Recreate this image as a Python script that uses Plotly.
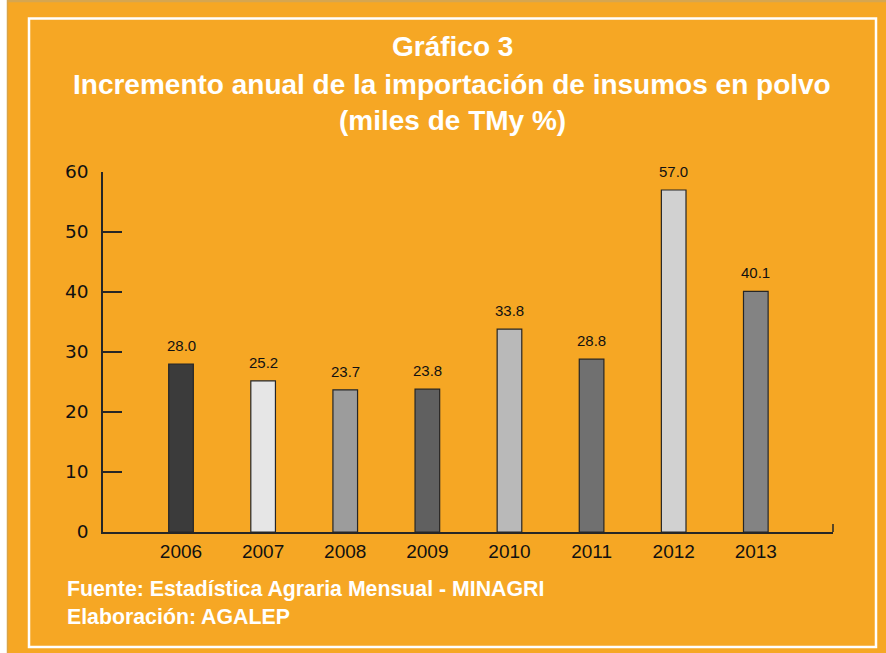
import plotly.graph_objects as go

years = ["2006", "2007", "2008", "2009", "2010", "2011", "2012", "2013"]
values = [28.0, 25.2, 23.7, 23.8, 33.8, 28.8, 57.0, 40.1]
bar_colors = ["#3b3b3b", "#e6e6e6", "#9c9c9c", "#606060", "#b9b9b9", "#707070", "#d1d1d1", "#838383"]
y_ticks = [0, 10, 20, 30, 40, 50, 60]

title_lines = ["Gráfico 3",
               "Incremento anual de la importación de insumos en polvo",
               "(miles de TMy %)"]
footer_lines = ["Fuente: Estadística Agraria Mensual - MINAGRI",
                "Elaboración: AGALEP"]

ORANGE = "#F6A724"
W, H = 886, 653
L, R, T, B = 103, 833, 172, 532  # plot area in pixels


def px(x):
    return (x - L) / (R - L)


def py(y):
    return (B - y) / (B - T)


fig = go.Figure()
fig.add_trace(go.Bar(
    x=years, y=values, width=0.3,
    marker=dict(color=bar_colors, line=dict(color="#262626", width=1.2)),
    hoverinfo="x+y",
))

annotations = []
for i, v in enumerate(values):
    annotations.append(dict(x=i, y=v, xref="x", yref="y", text=f"{v:.1f}",
                            showarrow=False, yanchor="bottom", yshift=8,
                            font=dict(family="Liberation Sans, Arial", size=15, color="#111")))

title_y = [47, 84, 120]
for t, yy in zip(title_lines, title_y):
    annotations.append(dict(x=px(452), y=py(yy), xref="paper", yref="paper", text=f"<b>{t}</b>",
                            showarrow=False, xanchor="center", yanchor="middle",
                            font=dict(family="Liberation Sans, Arial", size=28, color="white")))

footer_y = [589, 617]
for t, yy in zip(footer_lines, footer_y):
    annotations.append(dict(x=px(65), y=py(yy), xref="paper", yref="paper", text=f"<b>{t}</b>",
                            showarrow=False, xanchor="left", yanchor="middle",
                            font=dict(family="Liberation Sans, Arial", size=21.3, color="white")))

shapes = [
    # left white strip
    dict(type="rect", xref="paper", yref="paper", x0=px(-2), x1=px(7), y0=py(-2), y1=py(H + 2),
         fillcolor="white", line=dict(width=0), layer="below"),
    dict(type="line", xref="paper", yref="paper", x0=px(7.5), x1=px(7.5), y0=py(0), y1=py(H),
         line=dict(color="#D9A547", width=1.5), layer="below"),
    dict(type="line", xref="paper", yref="paper", x0=px(7), x1=px(W), y0=py(1), y1=py(1),
         line=dict(color="#D6A650", width=2.5), layer="below"),
    # inner white frame
    dict(type="rect", xref="paper", yref="paper", x0=px(29), x1=px(876), y0=py(18.5), y1=py(647),
         line=dict(color="white", width=2.5), fillcolor="rgba(0,0,0,0)", layer="below"),
    # end tick of x axis
    dict(type="line", xref="paper", yref="paper", x0=1, x1=1, y0=0, y1=py(524),
         line=dict(color="#262626", width=1.5)),
]

fig.update_layout(
    width=W, height=H,
    margin=dict(l=L, r=W - R, t=T, b=H - B),
    paper_bgcolor=ORANGE, plot_bgcolor=ORANGE,
    showlegend=False,
    annotations=annotations, shapes=shapes,
    xaxis=dict(type="category", range=[-0.95, 7.94], showgrid=False, zeroline=False,
               showline=True, linecolor="#262626", linewidth=1.5, ticks="",
               ticklabelstandoff=1,
               tickfont=dict(family="Liberation Sans, Arial", size=19, color="#111")),
    yaxis=dict(range=[0, 60], tickvals=y_ticks, showgrid=False, zeroline=False,
               showline=True, linecolor="#262626", linewidth=1.5,
               ticks="inside", ticklen=19, tickwidth=1.5, tickcolor="#262626",
               ticklabelstandoff=9,
               tickfont=dict(family="DejaVu Sans", size=18.5, color="#111")),
)

fig.write_html("out.html", config={"displayModeBar": False},
               post_script="document.body.style.margin='0px';document.body.style.padding='0px';")
